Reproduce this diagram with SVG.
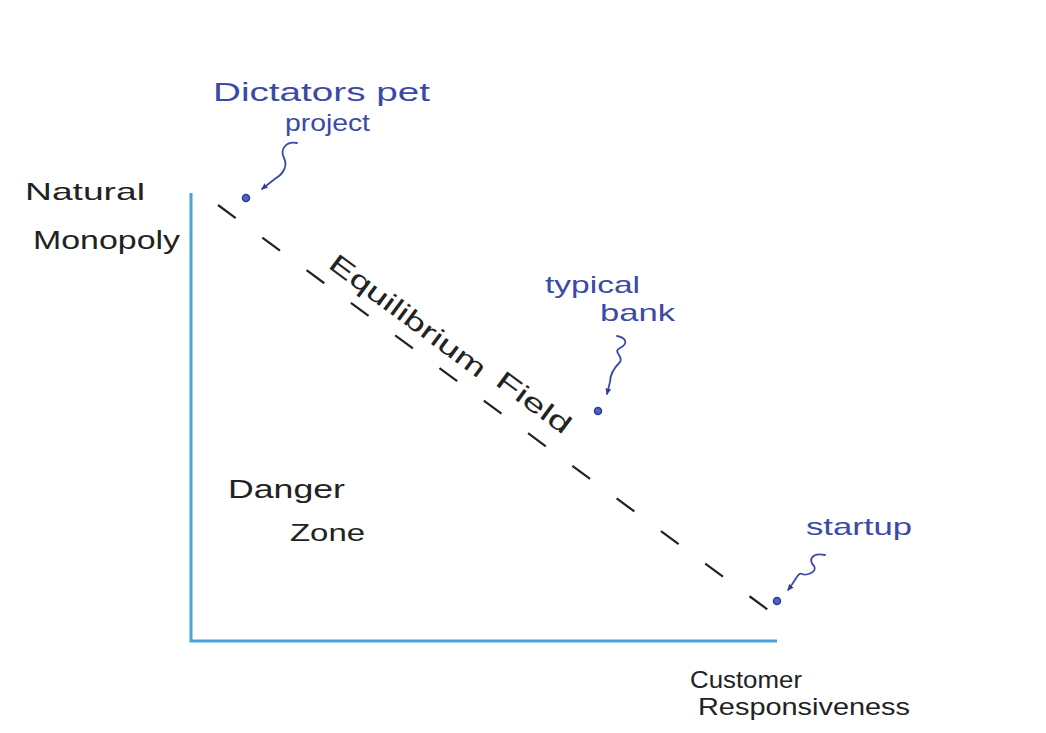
<svg xmlns="http://www.w3.org/2000/svg" width="1046" height="733" viewBox="0 0 1046 733">
<style>
.ink{font-family:"Liberation Sans",Arial,sans-serif;fill:#222}
.blue{font-family:"Liberation Sans",Arial,sans-serif;fill:#3b4aa6}
.sq{fill:none;stroke:#3b4aa6;stroke-width:1.8;stroke-linecap:round}
.dot{fill:#5564b8;stroke:#2d3c9c;stroke-width:1.5}
</style>
<defs>
<marker id="ah" viewBox="0 0 10 10" refX="9" refY="5" markerWidth="6" markerHeight="6" orient="auto-start-reverse" markerUnits="userSpaceOnUse">
<path d="M0,0 L10,5 L0,10 z" fill="#2d3c9c"/>
</marker>
</defs>
<rect width="1046" height="733" fill="#ffffff"/>
<g id="axes">
<path d="M191,193 V641 H777" fill="none" stroke="#4aa3d3" stroke-width="3"/>
</g>
<g id="connectors">
<line x1="218" y1="205" x2="775" y2="615" stroke="#222" stroke-width="2.2" stroke-dasharray="22 33"/>
<path class="sq" d="M297,143 C285,141 280,150 284,158 C288,166 283,174 276,178 L262,189" marker-end="url(#ah)"/>
<path class="sq" d="M617,336 C627,338 628,344 620,348 C612,352 624,356 620,362 C614,368 610,374 610,382 L607,394" marker-end="url(#ah)"/>
<path class="sq" d="M825,555 C812,552 808,560 814,566 C818,572 806,576 802,574 C798,572 796,580 788,590" marker-end="url(#ah)"/>
</g>
<g id="y-label">
<text class="ink" x="25" y="200" font-size="24" textLength="120" lengthAdjust="spacingAndGlyphs">Natural</text>
<text class="ink" x="33" y="249" font-size="26" textLength="147" lengthAdjust="spacingAndGlyphs">Monopoly</text>
</g>
<g id="x-label">
<text class="ink" x="690" y="688" font-size="23" textLength="112" lengthAdjust="spacingAndGlyphs">Customer</text>
<text class="ink" x="698" y="715" font-size="24" textLength="212" lengthAdjust="spacingAndGlyphs">Responsiveness</text>
</g>
<g id="equilibrium">
<text class="ink" font-size="26" transform="translate(327,267) rotate(36.5)" textLength="188" lengthAdjust="spacingAndGlyphs">Equilibrium</text>
<text class="ink" font-size="26" transform="translate(494,384) rotate(36.5)" textLength="86" lengthAdjust="spacingAndGlyphs">Field</text>
</g>
<g id="danger-zone">
<text class="ink" x="228" y="498" font-size="26" textLength="117" lengthAdjust="spacingAndGlyphs">Danger</text>
<text class="ink" x="290" y="541" font-size="24" textLength="75" lengthAdjust="spacingAndGlyphs">Zone</text>
</g>
<g id="dictator">
<text class="blue" x="213" y="101" font-size="25" textLength="217" lengthAdjust="spacingAndGlyphs">Dictators pet</text>
<text class="blue" x="285" y="131" font-size="24" textLength="85" lengthAdjust="spacingAndGlyphs">project</text>
<circle class="dot" cx="246" cy="198" r="3.5"/>
</g>
<g id="bank">
<text class="blue" x="545" y="293" font-size="24" textLength="95" lengthAdjust="spacingAndGlyphs">typical</text>
<text class="blue" x="600" y="321" font-size="24" textLength="75" lengthAdjust="spacingAndGlyphs">bank</text>
<circle class="dot" cx="598" cy="411" r="3.5"/>
</g>
<g id="startup">
<text class="blue" x="806" y="535" font-size="24" textLength="106" lengthAdjust="spacingAndGlyphs">startup</text>
<circle class="dot" cx="777" cy="601" r="3.5"/>
</g>
</svg>
